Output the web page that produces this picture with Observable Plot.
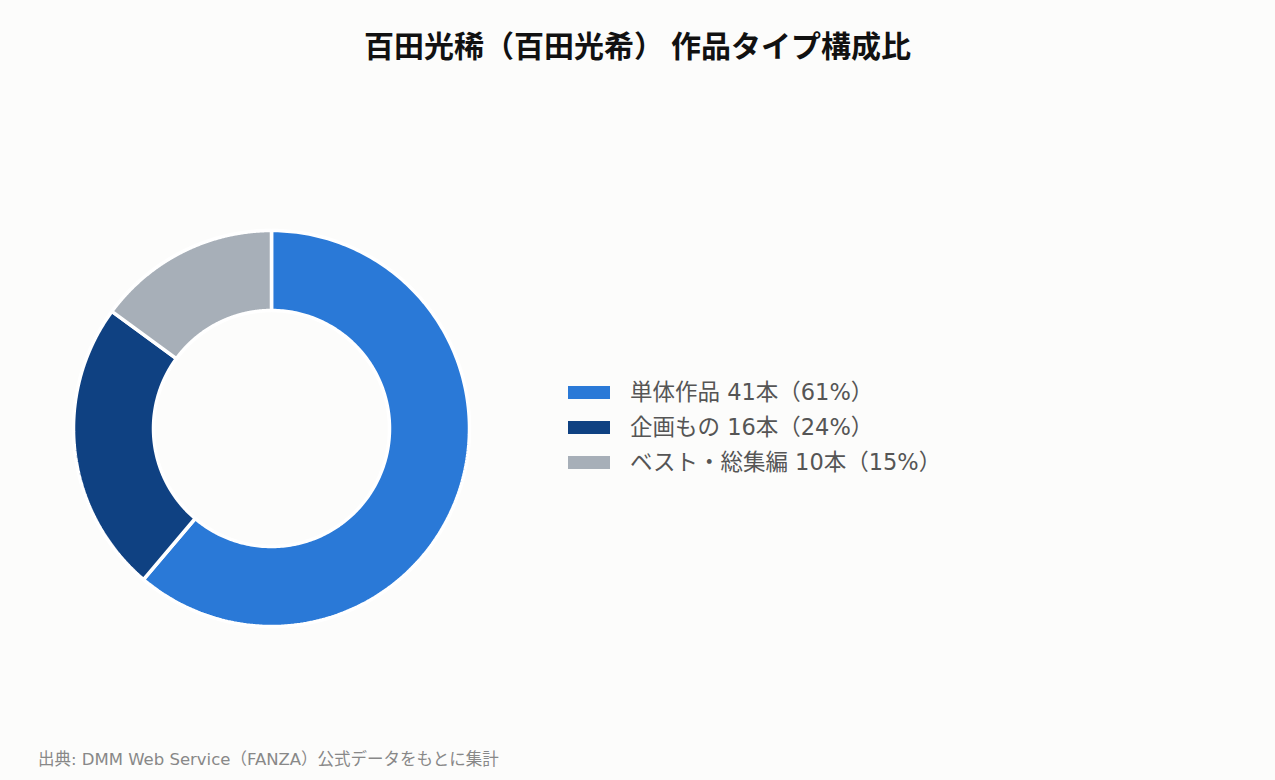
<!DOCTYPE html>
<html><head><meta charset="utf-8">
<script src="https://cdn.jsdelivr.net/npm/d3@7"></script>
<script src="https://cdn.jsdelivr.net/npm/@observablehq/plot@0.6"></script>
<style>
html,body{margin:0;padding:0;background:#fcfcfb;}
#wrap{position:relative;width:1275px;height:780px;overflow:hidden;}
#title{position:absolute;left:0;top:0;width:1275px;height:90px;line-height:88px;text-align:center;font-family:"Noto Sans CJK JP",sans-serif;font-weight:700;font-size:30px;color:#111;}
#chart{position:absolute;left:0;top:90px;}
#legend{position:absolute;left:568px;top:375px;font-family:"DejaVu Sans","Noto Sans CJK JP",sans-serif;font-size:22.5px;color:#555;}
.row{display:flex;align-items:center;height:35px;line-height:35px;}
.sw{width:42px;height:13px;margin-right:20px;flex:none;}
#caption{position:absolute;left:38px;top:746px;font-family:"DejaVu Sans","Noto Sans CJK JP",sans-serif;font-size:16.5px;color:#888;}
</style></head>
<body><div id="wrap">
<div id="title"></div>
<div id="chart"></div>
<div id="legend"></div>
<div id="caption"></div>
</div>
<script>
const titleText = "百田光稀（百田光希） 作品タイプ構成比";
const captionText = "出典: DMM Web Service（FANZA）公式データをもとに集計";
const categories = ["単体作品", "企画もの", "ベスト・総集編"];
const counts = [41, 16, 10];
const percents = [61, 24, 15];
const colors = ["#2a79d7", "#0f4182", "#a7afb8"];

document.getElementById("title").textContent = titleText;
document.getElementById("caption").textContent = captionText;

const innerRatio = 118 / 198;
const pie = d3.pie().sort(null).value(d => d.count)(categories.map((c, i) => ({category: c, count: counts[i]})));
const pts = [];
for (const s of pie) {
  const n = 240;
  const ring = [];
  for (let k = 0; k <= n; k++) {
    const a = s.startAngle + (s.endAngle - s.startAngle) * k / n;
    ring.push({category: s.data.category, x: Math.sin(a), y: Math.cos(a)});
  }
  for (let k = n; k >= 0; k--) {
    const a = s.startAngle + (s.endAngle - s.startAngle) * k / n;
    ring.push({category: s.data.category, x: innerRatio * Math.sin(a), y: innerRatio * Math.cos(a)});
  }
  ring.push({...ring[0]});
  pts.push(...ring);
}

const plot = Plot.plot({
  width: 1275,
  height: 640,
  margin: 0,
  style: {background: "transparent"},
  x: {domain: [-1, 1], range: [73, 469], axis: null},
  y: {domain: [-1, 1], range: [536, 140], axis: null},
  color: {domain: categories, range: colors},
  marks: [
    Plot.line(pts, {x: "x", y: "y", z: "category", fill: "category", stroke: "#ffffff", strokeWidth: 3.5, strokeLinejoin: "miter", curve: "linear"})
  ]
});
document.getElementById("chart").appendChild(plot);

const lg = document.getElementById("legend");
categories.forEach((c, i) => {
  const row = document.createElement("div");
  row.className = "row";
  const sw = document.createElement("div");
  sw.className = "sw";
  sw.style.background = colors[i];
  const t = document.createElement("span");
  t.textContent = `${c} ${counts[i]}本（${percents[i]}%）`;
  row.appendChild(sw); row.appendChild(t);
  lg.appendChild(row);
});
</script>
</body></html>
